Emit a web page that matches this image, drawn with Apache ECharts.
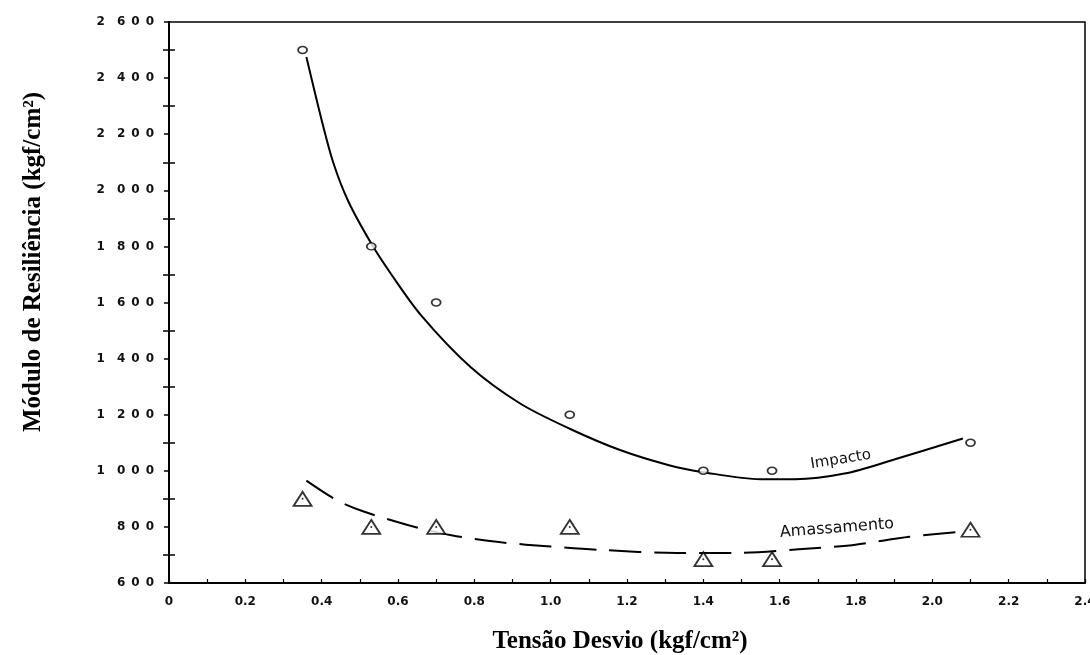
<!DOCTYPE html>
<html>
<head>
<meta charset="utf-8">
<script src="https://cdn.jsdelivr.net/npm/echarts@6/dist/echarts.min.js"></script>
<style>
  html, body { margin: 0; padding: 0; background: #fff; }
  #chart { width: 1090px; height: 655px; }
</style>
</head>
<body>
<div id="chart"></div>
<script>
// Deviator stress levels of the tests (kgf/cm²)
const tensaoDesvio = [0.35, 0.53, 0.70, 1.05, 1.40, 1.58, 2.10];

// Measured resilient modulus (kgf/cm²)
const impactoMedido = [2500, 1800, 1600, 1200, 1000, 1000, 1100];
const amassamentoMedido = [900, 800, 800, 800, 685, 685, 790];

// Fitted trend curves: [tensão, módulo]
const impactoCurva = [
  [0.36, 2475], [0.40, 2250], [0.43, 2100], [0.47, 1960], [0.53, 1810],
  [0.58, 1705], [0.66, 1555], [0.79, 1370], [0.92, 1240], [1.05, 1150],
  [1.18, 1075], [1.31, 1020], [1.40, 995], [1.55, 970], [1.64, 970],
  [1.77, 990], [1.90, 1040], [2.08, 1115]
];
const amassamentoCurva = [
  [0.36, 965], [0.44, 895], [0.51, 855], [0.63, 805], [0.74, 770],
  [0.87, 745], [1.00, 730], [1.13, 718], [1.33, 707], [1.48, 707],
  [1.65, 720], [1.79, 735], [1.94, 765], [2.07, 782]
];

// Curve captions, placed in data coordinates
const rotuloImpacto = { text: 'Impacto', pos: [1.76, 1040] };
const rotuloAmassamento = { text: 'Amassamento', pos: [1.75, 795] };

// Axis ranges
const xMin = 0, xMax = 2.4, xStep = 0.2;
const yMin = 600, yMax = 2600, yStep = 200;

const pairs = (xs, ys) => xs.map((x, i) => [x, ys[i]]);

// Typewriter-like spaced digits for the modulus scale
function fmtY(v) {
  const s = String(Math.round(v));
  const spaced = p => p.split('').join('\u2002');
  if (s.length > 3) return spaced(s.slice(0, -3)) + '\u2003' + spaced(s.slice(-3));
  return spaced(s);
}
function fmtX(v) {
  if (Math.abs(v) < 1e-9) return '0';
  return v.toFixed(1);
}

const tickFont = { color: '#111', fontFamily: 'DejaVu Sans', fontWeight: 'bold', fontSize: 12 };
const black = '#000';

const chart = echarts.init(document.getElementById('chart'), null, { renderer: 'canvas' });

chart.setOption({
  animation: false,
  backgroundColor: '#fff',
  grid: {
    left: 169, right: 5, top: 22, bottom: 72,
    outerBoundsMode: 'none', containLabel: false,
    show: true, borderColor: black, borderWidth: 1.5, backgroundColor: 'transparent'
  },
  xAxis: {
    type: 'value', min: xMin, max: xMax, interval: xStep,
    axisLine: { show: true, lineStyle: { color: black, width: 2 } },
    axisTick: { show: true, inside: true, length: 4, lineStyle: { color: black, width: 1.2 } },
    minorTick: { show: true, splitNumber: 2, length: 4, lineStyle: { color: black, width: 1.2 } },
    splitLine: { show: false },
    axisLabel: Object.assign({ margin: 13, formatter: fmtX, showMaxLabel: true, hideOverlap: false }, tickFont)
  },
  yAxis: [
    {
      type: 'value', position: 'left', min: yMin, max: yMax, interval: yStep,
      axisLine: { show: true, lineStyle: { color: black, width: 2 } },
      axisTick: { show: true, length: 5, lineStyle: { color: black, width: 1.5 } },
      minorTick: { show: true, splitNumber: 2, length: 6, lineStyle: { color: black, width: 1.5 } },
      splitLine: { show: false },
      axisLabel: Object.assign({ margin: 15, formatter: fmtY }, tickFont)
    },
    {
      // inner half of the crossing ticks at the odd hundreds
      type: 'value', position: 'left', offset: 0, min: yMin, max: yMax, interval: yStep,
      axisLine: { show: false },
      axisTick: { show: true, inside: true, length: 0 },
      minorTick: { show: true, splitNumber: 2, length: 6, lineStyle: { color: black, width: 1.5 } },
      splitLine: { show: false },
      axisLabel: { show: false }
    }
  ],
  graphic: [
    {
      type: 'text', x: 34, y: 262, rotation: Math.PI / 2,
      style: {
        text: 'Módulo de Resiliência (kgf/cm²)', fill: black,
        font: 'bold 25px "Liberation Serif", "Times New Roman", serif',
        textAlign: 'center', textVerticalAlign: 'middle'
      }
    },
    {
      type: 'text', x: 620, y: 642,
      style: {
        text: 'Tensão Desvio (kgf/cm²)', fill: black,
        font: 'bold 25px "Liberation Serif", "Times New Roman", serif',
        textAlign: 'center', textVerticalAlign: 'middle'
      }
    }
  ],
  series: [
    {
      name: 'Impacto', type: 'line', data: impactoCurva, smooth: 0.3,
      showSymbol: false, lineStyle: { color: black, width: 2 }, z: 2,
      markPoint: {
        symbolSize: 0,
        data: [{ coord: rotuloImpacto.pos }],
        label: {
          show: true, formatter: rotuloImpacto.text, rotate: 9, position: 'inside',
          color: '#111', fontFamily: 'DejaVu Sans', fontSize: 15
        }
      }
    },
    {
      name: 'Amassamento', type: 'line', data: amassamentoCurva, smooth: 0.3,
      showSymbol: false, lineStyle: { color: black, width: 2, type: [32, 13] }, z: 2,
      markPoint: {
        symbolSize: 0,
        data: [{ coord: rotuloAmassamento.pos }],
        label: {
          show: true, formatter: rotuloAmassamento.text, rotate: 4.5, position: 'inside',
          color: '#111', fontFamily: 'DejaVu Sans', fontSize: 16
        }
      }
    },
    {
      name: 'Impacto (ensaios)', type: 'scatter', data: pairs(tensaoDesvio, impactoMedido),
      symbol: 'circle', symbolSize: [9, 7], z: 4,
      itemStyle: { color: '#fff', borderColor: black, borderWidth: 1.6 }
    },
    {
      name: 'Amassamento (ensaios)', type: 'scatter', data: pairs(tensaoDesvio, amassamentoMedido),
      symbol: 'triangle', symbolSize: [18, 14], z: 4,
      itemStyle: { color: '#fff', borderColor: black, borderWidth: 1.8 }
    },
    {
      name: 'Amassamento (centro)', type: 'scatter', data: pairs(tensaoDesvio, amassamentoMedido),
      symbol: 'circle', symbolSize: 2, z: 5,
      itemStyle: { color: black }
    }
  ]
});
</script>
</body>
</html>
